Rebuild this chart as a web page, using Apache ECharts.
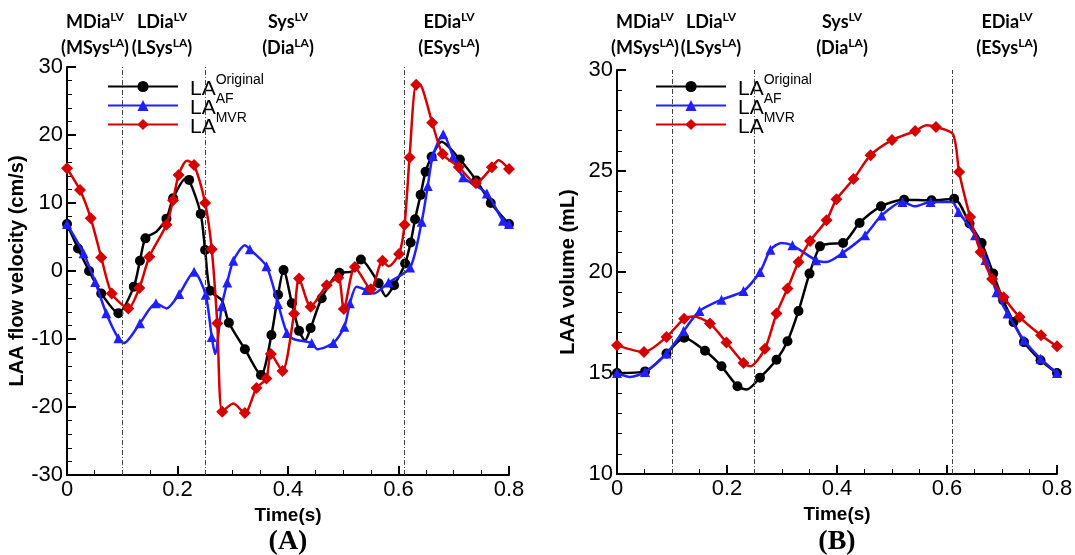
<!DOCTYPE html>
<html>
<head>
<meta charset="utf-8">
<script src="https://cdn.jsdelivr.net/npm/echarts@6/dist/echarts.min.js"></script>
<style>
  html, body { margin: 0; padding: 0; background: #fff; }
  #chart { width: 1075px; height: 555px; }
</style>
</head>
<body>
<div id="chart"></div>
<script>
// ---------- data ----------
const seriesNames = ['Original', 'AF', 'MVR'];
const phaseMarkers = [0.1, 0.25, 0.613];
const phaseTop = [['MDia', 'LV'], ['LDia', 'LV'], ['Sys', 'LV'], ['EDia', 'LV']];
const phaseBottom = [['(MSys', 'LA', ')'], ['(LSys', 'LA', ')'], ['(Dia', 'LA', ')'], ['(ESys', 'LA', ')']];
const xTicks = [0, 0.2, 0.4, 0.6, 0.8];
const velTicks = [-30, -20, -10, 0, 10, 20, 30];
const volTicks = [10, 15, 20, 25, 30];
const panelLabels = ['(A)', '(B)'];

// (A) LAA flow velocity (cm/s) — points carrying markers
const velOrig = [[0,6.9],[0.02,3.3],[0.04,0.0],[0.062,-3.3],[0.093,-6.2],[0.121,-2.3],[0.132,1.5],[0.142,4.8],[0.18,7.7],[0.192,10.7],[0.221,13.4],[0.242,8.4],[0.25,3.1],[0.259,-2.9],[0.293,-7.6],[0.322,-11.5],[0.351,-15.3],[0.37,-9.4],[0.382,-3.5],[0.392,0.15],[0.407,-4.75],[0.42,-8.8],[0.441,-8.4],[0.461,-4.0],[0.493,-0.25],[0.532,1.7],[0.564,-1.8],[0.592,-2.1],[0.612,1.1],[0.622,4.2],[0.63,7.6],[0.64,11.2],[0.649,14.6],[0.66,16.8],[0.711,16.4],[0.741,13.3],[0.767,10.0],[0.8,6.9]];
const velAF = [[0,6.9],[0.03,2.6],[0.051,-1.6],[0.071,-6.2],[0.093,-9.9],[0.132,-7.7],[0.161,-4.75],[0.203,-3.4],[0.23,-0.1],[0.251,-3.5],[0.262,-9.7],[0.28,-5.2],[0.29,-1.7],[0.301,1.5],[0.331,3.2],[0.361,0.7],[0.382,-4.85],[0.398,-9.1],[0.443,-10.6],[0.482,-10.6],[0.502,-8.2],[0.512,-4.75],[0.542,-2.8],[0.582,-1.7],[0.621,0.5],[0.642,7.25],[0.653,12.5],[0.662,16.9],[0.681,20.1],[0.699,16.8],[0.717,13.8],[0.76,11.4],[0.789,7.4],[0.8,6.9]];
const velMVR = [[0,15.1],[0.0235,11.9],[0.043,7.75],[0.062,2.0],[0.081,-3.3],[0.111,-5.5],[0.131,-2.5],[0.149,2.1],[0.18,6.8],[0.192,10.4],[0.202,14.1],[0.23,15.6],[0.25,10.0],[0.262,3.2],[0.272,-7.7],[0.281,-20.7],[0.322,-20.9],[0.343,-17.2],[0.361,-15.8],[0.369,-12.2],[0.39,-14.7],[0.411,-6.3],[0.42,-1.1],[0.441,-5.25],[0.47,-2.1],[0.491,-1.0],[0.501,-5.6],[0.521,0.6],[0.55,-2.7],[0.571,1.5],[0.601,2.5],[0.611,6.8],[0.62,16.7],[0.632,27.4],[0.661,21.8],[0.68,17.2],[0.709,15.3],[0.74,12.9],[0.769,15.25],[0.8,15.0]];
// curve-only points (no marker drawn)
const velOrigCurve = [[0.162,5.8],[0.215,13.6],[0.28,-4.3],[0.431,-10.2],[0.515,-0.1],[0.577,-3.7],[0.678,19.0]];
const velAFCurve = [[0.103,-10.6],[0.18,-5.5],[0.268,-12.2],[0.322,3.8],[0.41,-10.0],[0.453,-11.5],[0.524,-2.3],[0.555,-3.3]];
const velMVRCurve = [[0.217,16.2],[0.301,-19.5],[0.582,0.7],[0.642,27.1],[0.781,16.3]];

// (B) LAA volume (mL)
const volOrig = [[0,15.0],[0.051,15.08],[0.09,15.96],[0.122,16.75],[0.16,16.1],[0.19,15.33],[0.219,14.34],[0.26,14.77],[0.29,15.66],[0.31,16.57],[0.33,18.07],[0.35,19.92],[0.369,21.27],[0.411,21.44],[0.441,22.43],[0.48,23.25],[0.522,23.58],[0.572,23.55],[0.613,23.63],[0.641,22.4],[0.663,21.44],[0.684,19.92],[0.702,18.6],[0.721,17.52],[0.74,16.53],[0.77,15.63],[0.8,15.0]];
const volAF = [[0,15.0],[0.051,15.05],[0.09,15.96],[0.121,17.08],[0.15,18.07],[0.19,18.63],[0.23,19.06],[0.26,20.0],[0.279,21.1],[0.319,21.32],[0.362,20.58],[0.41,20.94],[0.451,21.82],[0.481,22.8],[0.519,23.47],[0.57,23.47],[0.621,22.97],[0.651,21.82],[0.67,20.6],[0.69,19.0],[0.71,17.94],[0.74,16.62],[0.77,15.71],[0.8,15.0]];
const volMVR = [[0,16.37],[0.049,16.04],[0.09,16.78],[0.122,17.69],[0.169,17.45],[0.199,16.51],[0.23,15.5],[0.269,16.2],[0.29,17.94],[0.31,19.18],[0.33,20.5],[0.351,21.53],[0.381,22.56],[0.399,23.6],[0.43,24.6],[0.461,25.78],[0.5,26.53],[0.542,26.98],[0.58,27.18],[0.622,24.95],[0.642,22.72],[0.661,20.99],[0.682,19.65],[0.703,18.75],[0.732,17.77],[0.771,16.87],[0.8,16.32]];
const volOrigCurve = [[0.236,14.18],[0.386,21.4]];
const volAFCurve = [[0.024,14.8],[0.299,21.44],[0.381,20.5],[0.542,23.25],[0.609,23.47]];
const volMVRCurve = [[0.139,17.8],[0.242,15.33],[0.563,27.26],[0.611,26.82]];

// ---------- styling / layout ----------
const colors = ['#000000', '#2020ff', '#d40000'];
const symbols = ['circle', 'triangle', 'diamond'];
const symbolSizes = [10, 10, 12];
const sans = "'Liberation Sans', Arial, sans-serif";

function merge(marks, extra) {
  return marks.map(p => ({ value: p }))
    .concat(extra.map(p => ({ value: p, symbol: 'none' })))
    .sort((a, b) => a.value[0] - b.value[0]);
}

const chart = echarts.init(document.getElementById('chart'), null, { renderer: 'canvas' });

function xAxisFor(gi) {
  return {
    type: 'value', gridIndex: gi, min: 0, max: 0.8, interval: 0.2,
    name: 'Time(s)', nameLocation: 'middle', nameGap: 30,
    nameTextStyle: { fontFamily: sans, fontWeight: 'bold', fontSize: 19, color: '#000' },
    axisLine: { show: true, onZero: false, lineStyle: { color: '#000', width: 2 } },
    axisTick: { show: true, inside: true, length: 9, lineStyle: { color: '#000', width: 2 } },
    minorTick: { show: true, splitNumber: 4, length: 5, lineStyle: { color: '#000', width: 1 } },
    splitLine: { show: false },
    axisLabel: { fontFamily: sans, fontSize: 22, color: '#000', margin: 4,
      formatter: v => { const i = xTicks.findIndex(t => Math.abs(t - v) < 1e-9); return i >= 0 ? String(xTicks[i]) : ''; } }
  };
}
function yAxisFor(gi, ticks, name, gap) {
  return {
    type: 'value', gridIndex: gi, min: ticks[0], max: ticks[ticks.length - 1], interval: ticks[1] - ticks[0],
    name: name, nameLocation: 'middle', nameGap: gap,
    nameTextStyle: { fontFamily: sans, fontWeight: 'bold', fontSize: 20, color: '#000' },
    axisLine: { show: true, onZero: false, lineStyle: { color: '#000', width: 2 } },
    axisTick: { show: true, inside: true, length: 9, lineStyle: { color: '#000', width: 2 } },
    minorTick: { show: true, splitNumber: 5, length: 5, lineStyle: { color: '#000', width: 1 } },
    splitLine: { show: false },
    axisLabel: { fontFamily: sans, fontSize: 22, color: '#000', margin: 4 }
  };
}

const velSets = [merge(velOrig, velOrigCurve), merge(velAF, velAFCurve), merge(velMVR, velMVRCurve)];
const volSets = [merge(volOrig, volOrigCurve), merge(volAF, volAFCurve), merge(volMVR, volMVRCurve)];

const series = [];
[velSets, volSets].forEach((sets, gi) => {
  sets.forEach((data, si) => {
    const s = {
      name: seriesNames[si], type: 'line', xAxisIndex: gi, yAxisIndex: gi,
      data: data, smooth: 0.25, symbol: symbols[si], symbolSize: symbolSizes[si],
      showAllSymbol: true, z: 3 + si,
      lineStyle: { color: colors[si], width: 2.5 },
      itemStyle: { color: colors[si] },
      emphasis: { disabled: true }
    };
    if (si === 0) {
      s.markLine = {
        silent: true, symbol: ['none', 'none'], label: { show: false },
        lineStyle: { color: '#444', width: 1, type: [5, 2, 1, 2] },
        data: phaseMarkers.map(x => ({ xAxis: x }))
      };
    }
    series.push(s);
  });
});

function legendFor(left) {
  return {
    orient: 'vertical', left: left, top: 68, itemWidth: 70, itemHeight: 14, itemGap: -8,
    data: seriesNames, selectedMode: false,
    formatter: n => '{b|LA}{s|' + n + '}',
    textStyle: {
      padding: [0, 0, 0, 7],
      rich: {
        b: { fontFamily: sans, fontSize: 21, color: '#000', lineHeight: 27, verticalAlign: 'bottom' },
        s: { fontFamily: sans, fontSize: 14, color: '#000', lineHeight: 12, verticalAlign: 'top' }
      }
    }
  };
}

const headerX = [[95, 162, 288, 449], [645, 711, 842, 1007]];
const graphics = [];
const headFont = "Lato, 'Open Sans', sans-serif";
const headRich = {
  b: { fontFamily: headFont, fontWeight: 'bold', fontSize: 18, fill: '#000' },
  s: { fontFamily: headFont, fontWeight: 'bold', fontSize: 12, fill: '#000', padding: [0, 0, 9, 0] }
};
headerX.forEach(xs => {
  xs.forEach((x, i) => {
    graphics.push({ type: 'text', x: x, y: 22, style: { text: '{b|' + phaseTop[i][0] + '}{s|' + phaseTop[i][1] + '}', rich: headRich, align: 'center', verticalAlign: 'middle' } });
    graphics.push({ type: 'text', x: x, y: 48, style: { text: '{b|' + phaseBottom[i][0] + '}{s|' + phaseBottom[i][1] + '}{b|' + phaseBottom[i][2] + '}', rich: headRich, align: 'center', verticalAlign: 'middle' } });
  });
});
[288, 837].forEach((x, i) => {
  graphics.push({ type: 'text', x: x, y: 542, style: { text: panelLabels[i], font: "bold 28px 'Liberation Serif', serif", fill: '#000', align: 'center', verticalAlign: 'middle' } });
});

chart.setOption({
  animation: false,
  backgroundColor: '#fff',
  grid: [
    { left: 67, top: 67, width: 442, height: 408, outerBoundsMode: 'none' },
    { left: 617, top: 70, width: 440, height: 404, outerBoundsMode: 'none' }
  ],
  xAxis: [xAxisFor(0), xAxisFor(1)],
  yAxis: [yAxisFor(0, velTicks, 'LAA flow velocity (cm/s)', 36), yAxisFor(1, volTicks, 'LAA volume (mL)', 39)],
  legend: [legendFor(102), legendFor(650)],
  series: series,
  graphic: graphics
});
</script>
</body>
</html>
